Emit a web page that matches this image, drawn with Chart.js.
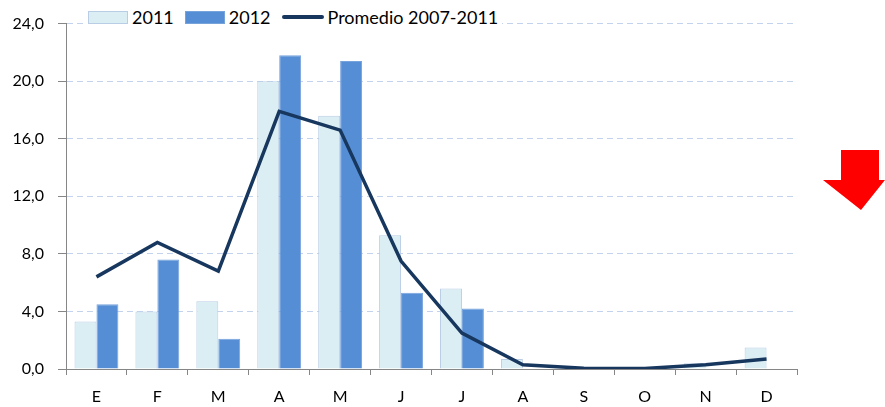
<!DOCTYPE html>
<html lang="es">
<head>
  <meta charset="UTF-8" />
  <title>Promedio 2007-2011</title>
  <script src="https://cdn.jsdelivr.net/npm/chart.js"></script>
  <style>
    body {
      margin: 0;
      background: #fff;
      font-family: Lato, 'Noto Sans', sans-serif;
    }

    .wrap {
      position: relative;
      width: 885px;
      height: 407px;
    }

    .legend {
      position: absolute;
      left: 86px;
      top: 6px;
      height: 22px;
      padding: 0 4px 0 2px;
      background: #fff;
      display: flex;
      align-items: center;
      font-size: 18px;
      color: #000;
    }

    .legend .item {
      display: flex;
      align-items: center;
      margin-right: 11px;
    }

    .legend .item:last-child { margin-right: 0; }

    .legend .box {
      width: 40px;
      height: 13px;
      margin-right: 4px;
      box-sizing: border-box;
    }

    .legend .line {
      width: 42px;
      height: 4px;
      border-radius: 2px;
      margin-right: 4px;
    }

    .arrow {
      position: absolute;
      left: 823px;
      top: 150px;
    }
  </style>
</head>
<body>
  <div class="wrap">
    <canvas id="chart" width="885" height="407"></canvas>
    <div class="legend" id="legend"></div>
    <svg class="arrow" width="62" height="61" viewBox="0 0 62 61">
      <polygon points="18,0 56,0 56,30 62,30 38,60 0,30 18,30" fill="#ff0000" />
    </svg>
  </div>

  <script>
    const months = ["E", "F", "M", "A", "M", "J", "J", "A", "S", "O", "N", "D"];
    const values2011 = [3.3, 4.0, 4.7, 20.0, 17.6, 9.3, 5.6, 0.7, 0, 0, 0.4, 1.5];
    const values2012 = [4.5, 7.6, 2.1, 21.8, 21.4, 5.3, 4.2, 0, 0, 0, 0, 0];
    const promedio = [6.4, 8.8, 6.8, 17.9, 16.6, 7.5, 2.5, 0.3, 0.05, 0.03, 0.3, 0.7];
    const yTicks = [0, 4, 8, 12, 16, 20, 24];

    const gray = "#868686";

    const chart = new Chart(document.getElementById("chart").getContext("2d"), {
      type: "bar",
      data: {
        labels: months,
        datasets: [
          {
            label: "2011",
            data: values2011,
            backgroundColor: "#daeef3",
            borderColor: "#b9cde5",
            borderWidth: 1,
            categoryPercentage: 0.72,
            barPercentage: 1,
            order: 1
          },
          {
            label: "2012",
            data: values2012,
            backgroundColor: "#558ed5",
            borderColor: "#77a3dc",
            borderWidth: 1,
            categoryPercentage: 0.72,
            barPercentage: 1,
            order: 1
          },
          {
            type: "line",
            label: "Promedio 2007-2011",
            data: promedio,
            borderColor: "#17375e",
            borderWidth: 3.5,
            pointRadius: 0,
            tension: 0,
            fill: false,
            order: 0
          }
        ]
      },
      options: {
        responsive: false,
        animation: false,
        layout: { padding: { top: 21, right: 88, left: 0, bottom: 0 } },
        plugins: {
          legend: { display: false },
          tooltip: { enabled: false }
        },
        scales: {
          x: {
            offset: true,
            grid: {
              offset: true,
              drawOnChartArea: false,
              drawTicks: true,
              tickLength: 6,
              tickColor: gray,
              tickWidth: 1
            },
            border: { display: true, color: gray, width: 1 },
            ticks: {
              color: "#000",
              font: { family: "Lato", size: 16 },
              padding: 12
            },
            afterFit: s => { s.height = 38; }
          },
          y: {
            min: 0,
            max: 24,
            afterBuildTicks: s => { s.ticks = yTicks.map(v => ({ value: v })); },
            grid: {
              color: "#c3d3ee",
              tickLength: 8,
              tickColor: gray,
              tickBorderDash: [],
              tickWidth: 1
            },
            border: { display: true, color: gray, width: 1, dash: [6, 4] },
            ticks: {
              color: "#000",
              font: { family: "Lato", size: 16 },
              padding: 14,
              callback: v => v.toFixed(1).replace(".", ",")
            },
            afterFit: s => { s.width = 66; }
          }
        }
      }
    });

    // legend sits inside the plot area, over the top grid line
    const legend = document.getElementById("legend");
    chart.data.datasets.forEach(ds => {
      const item = document.createElement("div");
      item.className = "item";
      const mark = document.createElement("span");
      if (ds.type === "line") {
        mark.className = "line";
        mark.style.background = ds.borderColor;
      } else {
        mark.className = "box";
        mark.style.background = ds.backgroundColor;
        mark.style.border = "1px solid " + ds.borderColor;
      }
      item.appendChild(mark);
      item.appendChild(document.createTextNode(ds.label));
      legend.appendChild(item);
    });
  </script>
</body>
</html>
